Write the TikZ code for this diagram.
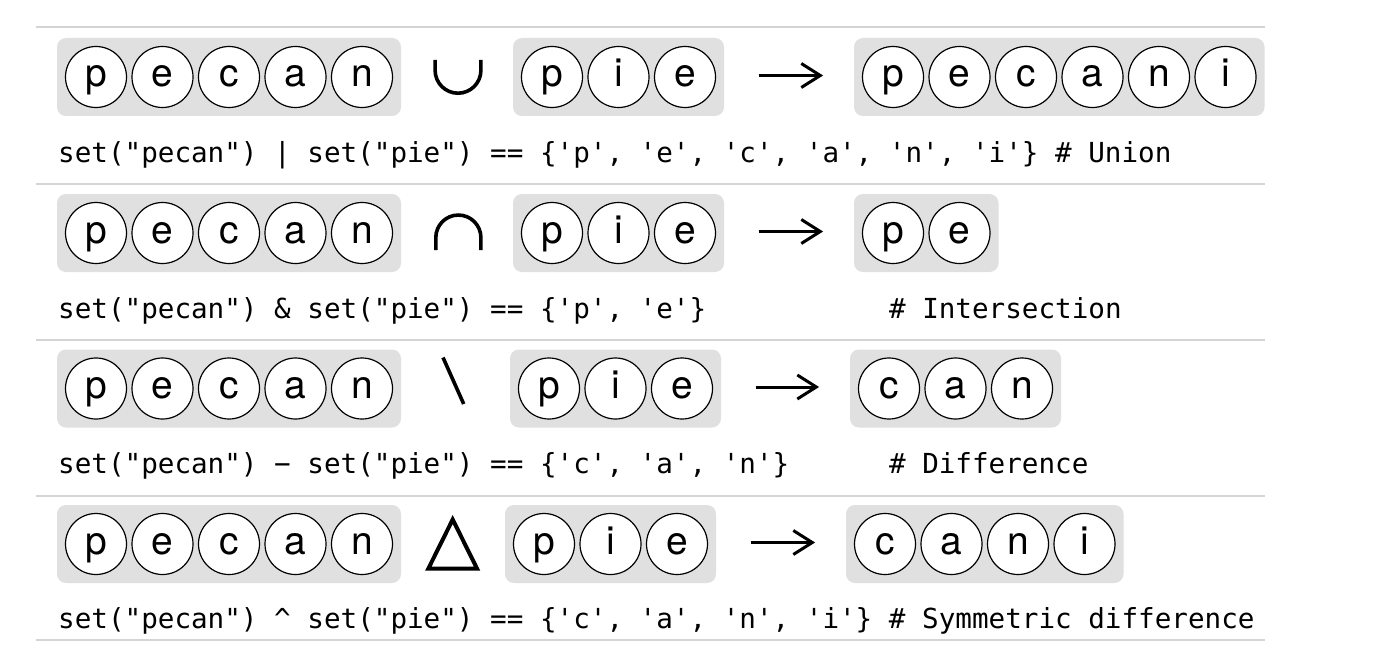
\documentclass[tikz,border=0pt]{standalone}
\usepackage{fontspec}
\setmainfont{TeX Gyre Heros}
\newfontfamily\codefont{DejaVu Sans Mono}[Ligatures=TeXOff]
\usetikzlibrary{fit,arrows.meta,backgrounds}
\definecolor{boxgray}{RGB}{224,224,224}
\definecolor{rulegray}{RGB}{212,212,212}
\tikzset{
  elem/.style={circle,draw=black,line width=1.2pt,fill=white,minimum size=61pt,
    inner sep=0pt,outer sep=0pt,font=\fontsize{39}{39}\selectfont,
    text height=28.2pt,text depth=8.2pt},
  setbox/.style={rounded corners=9pt,fill=boxgray,inner sep=8.5pt},
  code/.style={anchor=base west,inner sep=0pt,font=\codefont\fontsize{27.6}{30}\selectfont},
  seprule/.style={draw=rulegray,line width=2pt},
  opsym/.style={line width=3.6pt},
  oparrow/.style={line width=3pt,-{Straight Barb[length=19pt,width=24pt]},
    shorten <=34.3pt,shorten >=30.7pt},
}
\newcommand\elemset[4]{%
  \foreach \ltr [count=\i] in {#4}{%
    \node[elem] (#1-\i) at ({#2+66.5*(\i-1)},#3) {\ltr};
    \xdef\lastidx{\i}}%
  \begin{scope}[on background layer]
    \node[setbox,fit=(#1-1)(#1-\lastidx)] (#1) {};
  \end{scope}}
\begin{document}
\begin{tikzpicture}[x=1pt,y=-1pt]
\useasboundingbox (0,0) rectangle (1388,650);
\begin{scope}[on background layer]
\fill[white] (0,0) rectangle (1388,650);
\end{scope}
% separators
\foreach \yy in {27,184,340,496,640}{\draw[seprule] (36,\yy) -- (1265,\yy);}
% row 1: union
\elemset{aA}{96}{77}{p,e,c,a,n}
\elemset{bA}{552}{77}{p,i,e}
\elemset{rA}{893}{77}{p,e,c,a,n,i}
\draw[opsym] (435.1,60) -- (435.1,70.3) arc(180:0:22.9) -- (480.9,60);
\draw[oparrow] ([yshift=1.5pt]bA.east) -- ([yshift=1.5pt]rA.west);
\node[code] (cA) at (58,162) {set("pecan") | set("pie") == \{'p', 'e', 'c', 'a', 'n', 'i'\} \# Union};
% row 2: intersection
\elemset{aB}{96}{233}{p,e,c,a,n}
\elemset{bB}{552}{233}{p,i,e}
\elemset{rB}{893}{233}{p,e}
\draw[opsym] (435.8,250) -- (435.8,237.6) arc(180:360:22.55) -- (480.9,250);
\draw[oparrow] ([yshift=1.5pt]bB.east) -- ([yshift=1.5pt]rB.west);
\node[code] (cB) at (58,318) {set("pecan") \& set("pie") == \{'p', 'e'\}\phantom{aaaaaaaaaaa}\# Intersection};
% row 3: difference
\elemset{aC}{96}{388.5}{p,e,c,a,n}
\elemset{bC}{549}{388.5}{p,i,e}
\elemset{rC}{889}{388.5}{c,a,n}
\draw[opsym] (443,357.5) -- (463.7,404);
\draw[oparrow] ([yshift=1.5pt]bC.east) -- ([yshift=1.5pt]rC.west);
\node[code] (cC) at (58,473) {set("pecan") − set("pie") == \{'c', 'a', 'n'\}\phantom{aaaaaa}\# Difference};
% row 4: symmetric difference
\elemset{aD}{96}{544}{p,e,c,a,n}
\elemset{bD}{544}{544}{p,i,e}
\elemset{rD}{885}{544}{c,a,n,i}
\draw[line width=4pt] (452.7,519.5) -- (477,568.5) -- (428.4,568.5) -- cycle;
\draw[oparrow] ([yshift=1.5pt]bD.east) -- ([yshift=1.5pt]rD.west);
\node[code] (cD) at (58,628) {set("pecan") \textasciicircum\ set("pie") == \{'c', 'a', 'n', 'i'\} \# Symmetric difference};
\end{tikzpicture}
\end{document}
